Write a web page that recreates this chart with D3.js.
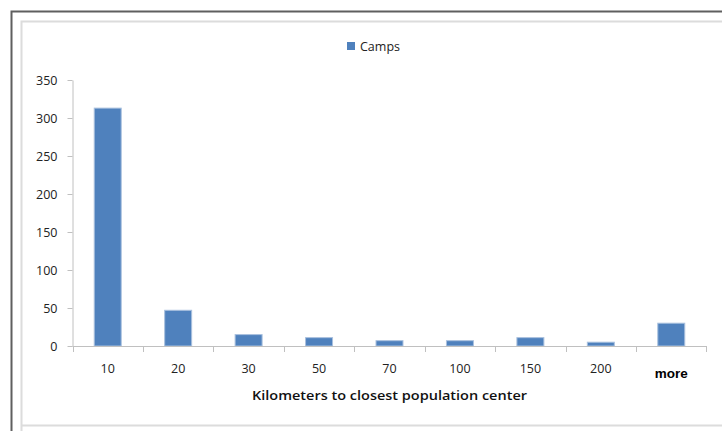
<!DOCTYPE html>
<html>
<head>
<meta charset="utf-8">
<script src="https://cdn.jsdelivr.net/npm/d3@7"></script>
<style>
  html, body { margin: 0; padding: 0; background: #ffffff; }
  svg { display: block; }
</style>
</head>
<body>
<svg id="chart" width="722" height="431"></svg>
<script>
// Distance bins (km) and number of camps in each bin
const categories = ["10", "20", "30", "50", "70", "100", "150", "200", "more"];
const camps = [313, 47, 15, 11, 7, 7, 11, 5, 30];
const yTicks = [0, 50, 100, 150, 200, 250, 300, 350];
const seriesName = "Camps";
const xTitle = "Kilometers to closest population center";

const svg = d3.select("#chart");
const font = "'Open Sans', 'DejaVu Sans', sans-serif";

// Frame: dark outer edge and a light inner chart-area border
svg.append("path")
  .attr("d", "M11.5,431 V11.5 H722")
  .attr("fill", "none").attr("stroke", "#5f5f5f").attr("stroke-width", 2);
svg.append("path")
  .attr("d", "M21.5,431 V21.5 H722 M21.5,425.5 H722")
  .attr("fill", "none").attr("stroke", "#dcdcdc").attr("stroke-width", 2);

const plot = { left: 72.5, right: 706.5, top: 80, bottom: 346 };

const x = d3.scaleBand()
  .domain(categories)
  .range([plot.left, plot.right])
  .paddingInner(0.617)
  .paddingOuter(0.3085);

const y = d3.scaleLinear()
  .domain([0, 350])
  .range([plot.bottom, plot.top]);

// Y axis
const yAxis = svg.append("g")
  .attr("transform", `translate(${plot.left},0)`)
  .call(d3.axisLeft(y).tickValues(yTicks).tickSize(5).tickPadding(10).tickSizeOuter(0));
yAxis.select(".domain").attr("stroke", "#c0c0c0");
yAxis.selectAll(".tick line").attr("stroke", "#c0c0c0");
yAxis.selectAll(".tick text")
  .attr("fill", "#222").attr("font-family", font).attr("font-size", 12.5);

// Bars
svg.append("g").selectAll("rect")
  .data(categories.map((c, i) => ({ c, v: camps[i] })))
  .join("rect")
  .attr("x", d => x(d.c))
  .attr("y", d => y(d.v))
  .attr("width", x.bandwidth())
  .attr("height", d => y(0) - y(d.v))
  .attr("fill", "#4f81bd")
  .attr("stroke", "#a9c0de")
  .attr("stroke-width", 1);

// X axis line and tick marks at bin boundaries
const half = (x.step() - x.bandwidth()) / 2;
const boundaries = categories.map(c => x(c) - half).concat([x(categories[categories.length - 1]) + x.bandwidth() + half]);
const xAxis = svg.append("g");
xAxis.append("line")
  .attr("x1", plot.left).attr("x2", boundaries[boundaries.length - 1])
  .attr("y1", plot.bottom + 0.5).attr("y2", plot.bottom + 0.5)
  .attr("stroke", "#c0c0c0");
xAxis.selectAll("line.tk")
  .data(boundaries)
  .join("line")
  .attr("class", "tk")
  .attr("x1", d => Math.round(d) + 0.5).attr("x2", d => Math.round(d) + 0.5)
  .attr("y1", plot.bottom).attr("y2", plot.bottom + 6)
  .attr("stroke", "#c0c0c0");

// Category labels
xAxis.selectAll("text")
  .data(categories)
  .join("text")
  .attr("x", d => x(d) + x.bandwidth() / 2)
  .attr("y", d => d === "more" ? 378 : 373)
  .attr("text-anchor", "middle")
  .attr("font-family", d => d === "more" ? "'Liberation Sans', Arial, sans-serif" : font)
  .attr("font-weight", d => d === "more" ? "bold" : "normal")
  .attr("font-size", d => d === "more" ? 13.5 : 12.5)
  .attr("fill", d => d === "more" ? "#000" : "#222")
  .text(d => d);

// Axis title
svg.append("text")
  .attr("x", 389.5).attr("y", 400)
  .attr("text-anchor", "middle")
  .attr("font-family", font)
  .attr("font-weight", 600)
  .attr("font-size", 12.5)
  .attr("textLength", 275)
  .attr("lengthAdjust", "spacingAndGlyphs")
  .attr("fill", "#111")
  .text(xTitle);

// Legend
const legend = svg.append("g");
legend.append("rect")
  .attr("x", 347).attr("y", 42).attr("width", 8).attr("height", 8)
  .attr("fill", "#4f81bd");
legend.append("text")
  .attr("x", 360).attr("y", 50.5)
  .attr("font-family", font).attr("font-size", 12.5)
  .attr("fill", "#222")
  .text(seriesName);
</script>
</body>
</html>
